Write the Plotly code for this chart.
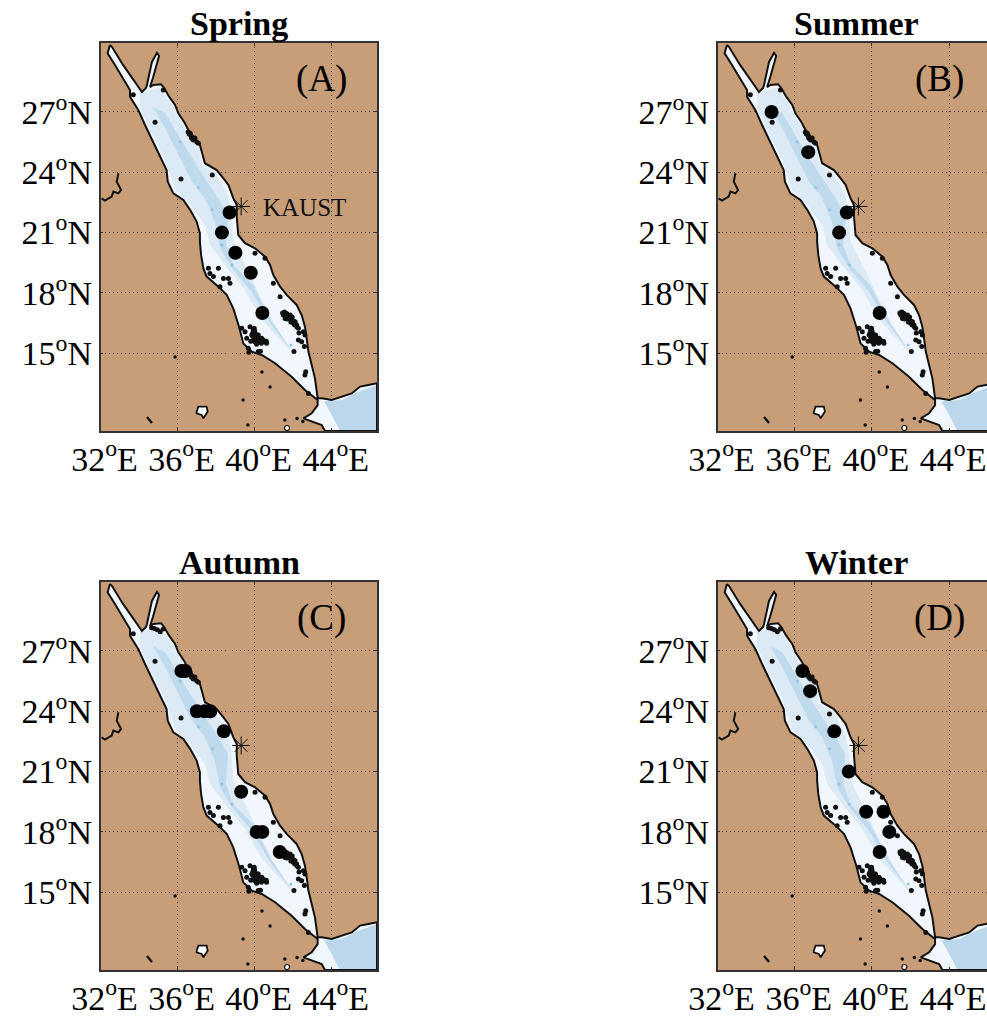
import plotly.graph_objects as go

W, H = 987, 1020
LAND = "#c79e78"
INK = "#111111"
SERIF = "Liberation Serif, Times New Roman, serif"

panel_names = ["Spring", "Summer", "Autumn", "Winter"]
panel_tags = ["(A)", "(B)", "(C)", "(D)"]

# Station positions per season (deg E, deg N)
spring_lon = [38.7, 38.3, 39.0, 39.8, 40.4]
spring_lat = [22, 21, 20, 19, 17]
summer_lon = [34.8, 36.7, 38.7, 38.3, 40.4]
summer_lat = [27, 25, 22, 21, 17]
autumn_lon = [36.2, 36.4, 37.0, 37.4, 37.7, 38.4, 39.3, 40.1, 40.4, 41.3]
autumn_lat = [26, 26, 24, 24, 24, 23, 20, 18, 18, 17]
winter_lon = [36.4, 36.8, 38.05, 38.8, 39.7, 40.6, 40.9, 40.4]
winter_lat = [26, 25, 23, 21, 19, 19, 18, 17]

kaust_lon = [39.3]
kaust_lat = [22.3]

x_tick_vals = [32, 36, 40, 44]
x_tick_text = ["32<sup>o</sup>E", "36<sup>o</sup>E", "40<sup>o</sup>E", "44<sup>o</sup>E"]
y_tick_vals = [15, 18, 21, 24, 27]
y_tick_text = ["15<sup>o</sup>N", "18<sup>o</sup>N", "21<sup>o</sup>N", "24<sup>o</sup>N", "27<sup>o</sup>N"]

# Red Sea and Gulf of Aden outline
sea_lon = [32.49, 32.37, 32.75, 33.10, 33.53, 33.53, 33.96, 34.31, 34.74, 35.09, 35.43, 35.49,
           35.78, 36.30, 36.65, 36.99, 37.16, 37.16, 37.22, 37.34, 37.51, 38.12, 38.55, 38.89,
           39.19, 39.41, 39.85, 40.37, 41.06, 41.92, 42.61, 43.27, 43.27, 42.96, 42.53, 43.48,
           43.65, 46.35, 46.35, 45.90, 45.47, 45.04, 44.52, 44.00, 43.48, 43.27, 43.13, 42.96,
           42.79, 42.70, 42.61, 42.44, 42.18, 41.66, 41.32, 40.97, 40.80, 40.54, 40.02, 39.50,
           39.15, 39.07, 39.07, 38.89, 38.64, 38.38, 38.03, 37.42, 37.29, 37.16, 36.82, 36.56,
           36.35, 36.04, 35.87, 35.56, 35.31, 35.14, 34.74, 34.57, 34.72, 35.04, 34.93, 34.67,
           34.41, 34.36, 34.15, 33.17, 32.60, 32.49]
sea_lat = [30.33, 29.92, 29.34, 28.76, 28.09, 27.76, 27.10, 26.35, 25.52, 24.78, 24.11, 23.53,
           22.95, 22.62, 22.13, 21.55, 20.96, 20.55, 19.89, 19.22, 18.81, 18.31, 17.90, 17.23,
           16.32, 15.49, 15.08, 14.91, 14.50, 13.83, 13.17, 12.67, 12.42, 12.01, 11.76, 11.43,
           11.13, 11.13, 13.50, 13.42, 13.34, 13.00, 12.84, 12.67, 12.76, 12.76, 13.75, 14.41,
           15.08, 15.74, 16.32, 16.90, 17.40, 17.90, 18.31, 18.89, 19.39, 19.80, 20.22, 20.47,
           20.88, 21.79, 22.37, 22.71, 23.37, 23.70, 24.11, 24.45, 24.86, 25.36, 25.77, 26.10,
           26.49, 26.93, 27.35, 27.76, 28.18, 28.38, 28.34, 28.24, 28.69, 29.79, 29.94, 29.49,
           28.34, 28.19, 27.99, 29.34, 30.23, 30.33]

# Depth bands
mid_lon = [34.05, 35.09, 35.71, 36.38, 37.16, 37.27, 37.94, 38.62, 38.82, 38.88, 39.24, 39.76,
           40.38, 41.06, 41.94, 41.57, 40.38, 39.50, 38.46, 37.68, 37.42, 36.64, 35.87, 35.35,
           34.57, 34.05]
mid_lat = [27.95, 28.19, 27.35, 26.20, 25.11, 24.36, 24.01, 22.87, 21.88, 20.63, 19.89, 18.89,
           17.64, 16.40, 15.06, 15.41, 16.65, 18.14, 19.39, 20.38, 21.38, 22.37, 23.12, 24.61,
           26.10, 27.20]
deep_lon = [34.72, 35.35, 36.02, 36.75, 37.42, 38.10, 38.62, 38.51, 38.88, 39.91, 40.90, 42.09,
            40.80, 39.86, 38.82, 38.20, 37.94, 37.42, 36.75, 36.13, 35.35, 34.72]
deep_lat = [27.25, 26.95, 25.86, 24.71, 23.72, 22.72, 21.88, 20.38, 19.39, 18.39, 16.55, 14.91,
            16.50, 18.04, 19.24, 20.23, 21.53, 22.72, 23.52, 24.71, 26.20, 27.25]
aden_lon = [43.60, 44.53, 45.36, 46.35, 46.35, 44.43, 43.90, 43.60]
aden_lat = [12.60, 12.67, 13.07, 13.42, 11.13, 11.13, 12.10, 12.60]
trench_lon = [36.13, 37.08, 37.80, 38.30, 38.83, 41.88]
trench_lat = [25.51, 23.23, 22.13, 20.38, 19.39, 15.41]

# Reefs and small islands
reef_lon = [41.49, 41.66, 41.84, 41.92, 41.75, 41.58, 42.10, 42.18, 42.27, 42.01, 42.53, 42.61,
            42.27, 42.44, 42.58, 42.04, 39.93, 40.02, 39.85, 40.19, 40.11, 40.37, 40.28, 40.54,
            40.62, 40.02, 40.19, 39.67, 39.33, 39.50, 39.76, 39.59, 39.98, 37.60, 37.68, 37.86,
            38.12, 38.38, 38.64, 38.72, 38.20, 40.02, 40.97, 41.32, 40.54, 42.61, 42.65, 42.79,
            36.65, 36.82, 37.08, 36.73, 33.70, 35.26, 34.83, 36.18, 37.80,
            41.45, 41.55, 41.60, 41.72, 41.80, 41.95, 42.02, 42.08, 41.88, 42.20, 41.68, 42.30,
            39.90, 40.00, 40.10, 40.05, 40.20, 40.30, 40.45, 39.95, 40.15, 39.90, 40.35, 40.60,
            40.10, 39.80, 39.70, 40.30, 36.55, 36.70, 36.90, 37.00, 36.60]
reef_lat = [16.90, 16.98, 16.90, 16.65, 16.73, 16.73, 16.57, 16.40, 16.24, 16.49, 16.07, 15.91,
            15.66, 15.57, 15.33, 15.08, 16.15, 15.99, 15.91, 15.91, 15.74, 15.74, 15.57, 15.57,
            15.49, 15.57, 15.08, 15.24, 16.24, 16.07, 16.32, 15.74, 16.24, 19.22, 18.97, 18.81,
            19.22, 18.72, 18.72, 18.48, 18.31, 19.97, 18.48, 17.81, 19.72, 13.92, 14.08, 13.00,
            25.94, 25.61, 25.44, 25.69, 27.85, 28.09, 26.49, 23.67, 23.87,
            17.00, 17.05, 16.85, 16.88, 16.75, 16.80, 16.60, 16.40, 16.55, 16.30, 16.70, 16.00,
            16.00, 16.10, 15.90, 15.80, 15.75, 15.70, 15.65, 15.70, 15.60, 15.85, 15.50, 15.60,
            15.45, 15.60, 15.05, 15.10, 26.00, 25.80, 25.70, 25.50, 25.90]
north_reef_lon = [34.65, 34.80, 34.95, 35.10]
north_reef_lat = [28.15, 28.12, 28.05, 27.95]

nile_lon = [32.06, 32.23, 32.58, 32.67, 32.93, 33.07, 32.84, 32.93]
nile_lat = [22.70, 22.59, 22.79, 23.04, 22.95, 23.12, 23.53, 23.95]
coast_bit_lon = [34.41, 34.67]
coast_bit_lat = [11.83, 11.53]
speck_lon = [35.87, 40.38, 40.80, 39.40, 39.65, 41.57, 42.20, 42.50]
speck_lat = [14.81, 14.06, 13.32, 12.67, 11.43, 11.68, 11.75, 11.60]
lake_lon = [36.99, 37.08, 37.51, 37.56, 37.34, 37.25, 36.99, 36.99]
lake_lat = [12.09, 12.34, 12.34, 12.09, 11.76, 11.93, 12.01, 12.09]
small_lake_lon = [41.68]
small_lake_lat = [11.28]

lon_full_end = 46.35
lon_cut_end = 45.96
lat_range = [11.13, 30.43]

panel_season_lon = [spring_lon, summer_lon, autumn_lon, winter_lon]
panel_season_lat = [spring_lat, summer_lat, autumn_lat, winter_lat]
panel_left = [100.5, 717.5, 100.5, 717.5]
panel_right = [377, 987, 377, 987]
panel_top = [43, 43, 582, 582]
panel_bottom = [431, 431, 970, 970]
panel_lon_end = [lon_full_end, lon_cut_end, lon_full_end, lon_cut_end]

fig = go.Figure()
annotations = []

for i in range(4):
    n = "" if i == 0 else str(i + 1)
    xref, yref = "x" + n, "y" + n

    def add(**kw):
        fig.add_trace(go.Scatter(xaxis=xref, yaxis=yref, showlegend=False, hoverinfo="skip", **kw))

    add(x=sea_lon, y=sea_lat, mode="none", fill="toself", fillcolor="#f2f7fe")
    add(x=mid_lon, y=mid_lat, mode="none", fill="toself", fillcolor="#dceaf6")
    add(x=deep_lon, y=deep_lat, mode="none", fill="toself", fillcolor="#bfd9ed")
    add(x=aden_lon, y=aden_lat, mode="none", fill="toself", fillcolor="#bcd6eb")
    add(x=trench_lon, y=trench_lat, mode="markers", marker=dict(size=3, color="#93c3de"))
    add(x=sea_lon, y=sea_lat, mode="lines", line=dict(color=INK, width=2))
    add(x=nile_lon, y=nile_lat, mode="lines", line=dict(color=INK, width=2))
    add(x=coast_bit_lon, y=coast_bit_lat, mode="lines", line=dict(color=INK, width=2.4))
    add(x=lake_lon, y=lake_lat, mode="lines", fill="toself", fillcolor="#ffffff",
        line=dict(color=INK, width=1.8))
    add(x=small_lake_lon, y=small_lake_lat, mode="markers",
        marker=dict(size=5, color="#ffffff", line=dict(color=INK, width=1.2)))
    add(x=speck_lon, y=speck_lat, mode="markers", marker=dict(size=3.5, color=INK))
    add(x=reef_lon, y=reef_lat, mode="markers", marker=dict(size=5, color=INK))
    if i >= 2:
        add(x=north_reef_lon, y=north_reef_lat, mode="markers", marker=dict(size=5, color=INK))
    add(x=panel_season_lon[i], y=panel_season_lat[i], mode="markers",
        marker=dict(size=14, color="#000000"))
    add(x=kaust_lon, y=kaust_lat, mode="markers",
        marker=dict(symbol="asterisk-open", size=15, color=INK, line=dict(color=INK, width=1)))

    dom_x = [panel_left[i] / W, panel_right[i] / W]
    dom_y = [1 - panel_bottom[i] / H, 1 - panel_top[i] / H]
    axis_common = dict(
        showline=True, linecolor="#333333", linewidth=1.5, showgrid=True,
        gridcolor="#444444", griddash="1px,3px", gridwidth=1, zeroline=False,
        ticks="inside", ticklen=3, tickcolor="#333333", automargin=False,
        tickfont=dict(family=SERIF, size=34, color="#000000"), tickangle=0,
    )
    fig.update_layout({
        "xaxis" + n: dict(domain=dom_x, range=[32, panel_lon_end[i]], tickmode="array",
                          tickvals=x_tick_vals, ticktext=x_tick_text, anchor=yref,
                          mirror="ticks", ticklabelstandoff=-3, ticklabelshift=4, **axis_common),
        "yaxis" + n: dict(domain=dom_y, range=lat_range, tickmode="array",
                          tickvals=y_tick_vals, ticktext=y_tick_text, anchor=xref,
                          mirror="ticks" if i in (0, 2) else False, ticklabelstandoff=0,
                          **axis_common),
    })

    annotations.append(dict(text="<b>" + panel_names[i] + "</b>", xref=xref, x=39.19,
                            yref=yref + " domain", y=1, yanchor="bottom", yshift=-1,
                            showarrow=False, font=dict(family=SERIF, size=34, color="#000000")))
    annotations.append(dict(text=panel_tags[i], xref=xref, x=43.49, yref=yref, y=28.64,
                            showarrow=False, font=dict(family=SERIF, size=37, color="#000000")))

annotations.append(dict(text="KAUST", xref="x", x=42.61, yref="y", y=22.27, showarrow=False,
                        font=dict(family=SERIF, size=25, color="#111111")))

fig.update_layout(
    width=W, height=H, margin=dict(l=0, r=0, t=0, b=0, autoexpand=False),
    paper_bgcolor="#ffffff", plot_bgcolor=LAND, annotations=annotations, showlegend=False,
)

fig.write_html("out.html", config=dict(displayModeBar=False),
               post_script="document.body.style.margin='0';document.documentElement.style.overflow='hidden';")
